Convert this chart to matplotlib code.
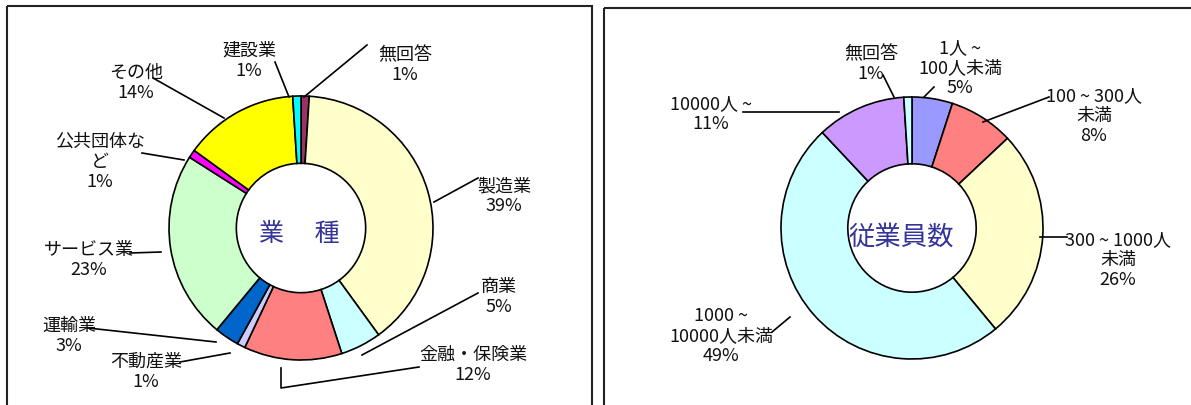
import matplotlib
matplotlib.use("Agg")
import matplotlib.pyplot as plt
from matplotlib.patches import Rectangle

# 業種
ind_names = ['無回答', '製造業', '商業', '金融・保険業', '不動産業', '運輸業',
             'サービス業', '公共団体な\nど', 'その他', '建設業']
ind_values = [1, 39, 5, 12, 1, 3, 23, 1, 14, 1]
ind_colors = ['#993366', '#FFFFCC', '#CCFFFF', '#FF8080', '#CCCCFF', '#0066CC',
              '#CCFFCC', '#FF00FF', '#FFFF00', '#00FFFF']

# 従業員数
emp_names = ['1人 ~\n100人未満', '100 ~ 300人\n未満', '300 ~ 1000人\n未満',
             '1000 ~\n10000人未満', '10000人 ~', '無回答']
emp_values = [5, 8, 26, 49, 11, 1]
emp_colors = ['#9999FF', '#FF8080', '#FFFFCC', '#CCFFFF', '#CC99FF', '#CCFFFF']

W, H = 1191, 405
FONT = ['Liberation Sans Narrow', 'Noto Sans CJK JP', 'DejaVu Sans']
plt.rcParams['font.family'] = FONT

fig = plt.figure(figsize=(W / 100, H / 100), dpi=100)
fig.patch.set_facecolor('white')


def donut(cx, cy, r, values, colors):
    ax = fig.add_axes([(cx - r) / W, (H - cy - r) / H, 2 * r / W, 2 * r / H])
    ax.pie(values, colors=colors, startangle=90, counterclock=False, radius=1,
           wedgeprops=dict(width=0.51, edgecolor='black', linewidth=1.2))
    ax.set_aspect('auto')
    ax.set_xlim(-1, 1)
    ax.set_ylim(-1, 1)
    ax.axis('off')
    return ax


donut(301, 228, 132, ind_values, ind_colors)
donut(912, 228, 131, emp_values, emp_colors)

# overlay in pixel coordinates for frames, labels and leader lines
ov = fig.add_axes([0, 0, 1, 1])
ov.set_xlim(0, W)
ov.set_ylim(H, 0)
ov.axis('off')

ov.add_patch(Rectangle((7, 6), 585, 420, fill=False, edgecolor='#222222', linewidth=1.5))
ov.add_patch(Rectangle((604, 8), 620, 420, fill=False, edgecolor='#222222', linewidth=1.5))

ind_pos = [(405, 65), (504, 196), (499, 297), (473, 365), (146, 372), (69, 336),
           (89, 260), (100, 162), (136, 83), (249, 61)]
ind_lines = [[(304, 97), (367, 45)], [(434, 202), (478, 178)], [(362, 355), (478, 293)],
             [(281, 368), (281, 388), (419, 367)], [(230, 353), (180, 362)],
             [(216, 342), (88, 328)], [(161, 252), (130, 253)], [(184, 160), (142, 153)],
             [(224, 118), (153, 78)], [(289, 97), (275, 62)]]

emp_pos = [(960, 68), (1094, 116), (1118, 260), (721, 336), (711, 114), (871, 64)]
emp_lines = [[(924, 97), (934, 87)], [(983, 122), (1049, 97)], [(1040, 237), (1067, 237)],
             [(790, 317), (772, 332)], [(839, 112), (743, 112)], [(894, 97), (883, 75)]]

for names, values, pos, lines in [(ind_names, ind_values, ind_pos, ind_lines),
                                  (emp_names, emp_values, emp_pos, emp_lines)]:
    for name, v, (x, y), pts in zip(names, values, pos, lines):
        ov.text(x, y, f"{name}\n{v}%", ha='center', va='center', fontsize=13,
                linespacing=1.15, color='#111111')
        ov.plot([p[0] for p in pts], [p[1] for p in pts], color='black', linewidth=1.2)

ov.text(299, 234, '業　 種', ha='center', va='center', fontsize=18, color='#333399',
        family=['Noto Sans CJK JP'])
ov.text(901, 237, '従業員数', ha='center', va='center', fontsize=19, color='#333399',
        family=['Noto Sans CJK JP'])

fig.savefig('out.png', dpi=100)
